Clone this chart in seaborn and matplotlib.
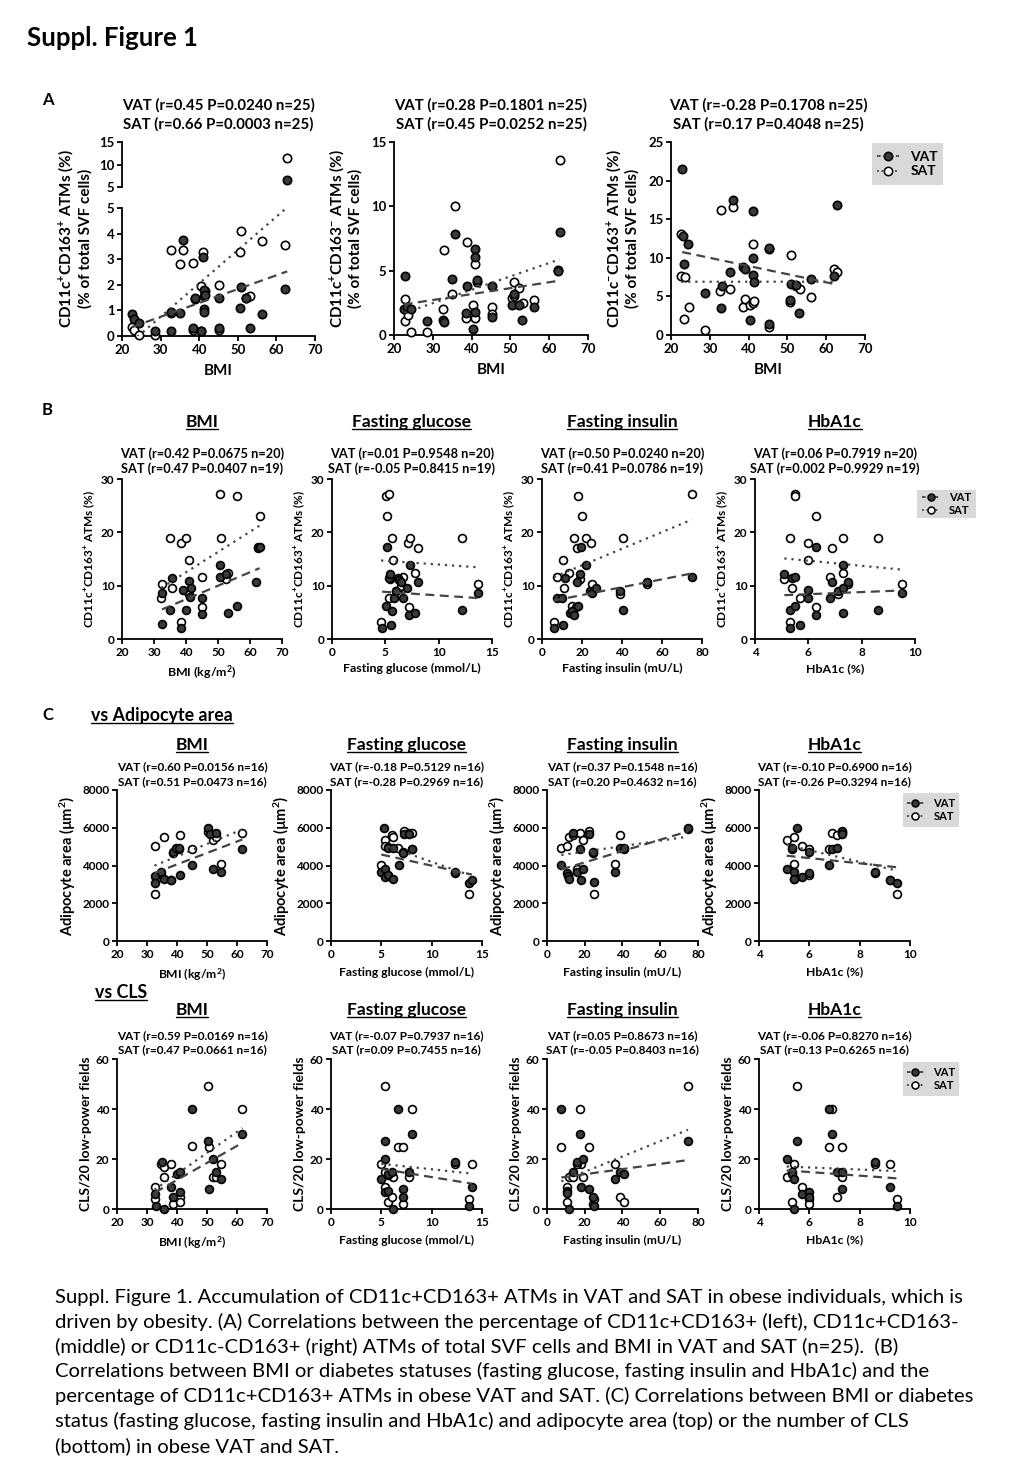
import matplotlib
matplotlib.use('Agg')
import matplotlib.pyplot as plt
from matplotlib.lines import Line2D
from matplotlib.patches import Rectangle
import seaborn as sns

# ---------------- data ----------------
# A: BMI vs ATM subsets, n=25
a1_vat_x = [22.6, 23.0, 24.4, 28.5, 32.8, 32.8, 35.0, 35.8, 38.5, 39.0, 40.4, 41.0, 41.3, 41.3, 41.3, 41.5, 45.2, 45.2, 50.6, 50.9, 52.0, 53.2, 56.2, 62.2, 62.8]
a1_vat_y = [0.85, 0.65, 0.50, 0.20, 0.95, 0.20, 0.90, 3.75, 0.30, 1.50, 0.20, 3.10, 1.80, 1.05, 0.95, 1.60, 1.50, 0.30, 1.10, 1.90, 1.50, 0.30, 0.85, 1.85, 6.50]
a1_sat_x = [22.6, 23.0, 24.4, 28.5, 32.8, 32.8, 35.0, 35.8, 38.5, 38.5, 39.0, 40.4, 40.4, 41.0, 41.3, 41.5, 45.2, 45.2, 50.6, 50.9, 52.0, 53.2, 56.2, 62.2, 62.8]
a1_sat_y = [0.35, 0.25, 0.05, 0.05, 3.35, 0.90, 2.80, 3.35, 2.85, 0.25, 1.45, 1.95, 0.20, 3.30, 1.55, 1.75, 2.00, 0.25, 3.30, 4.10, 1.50, 1.55, 3.70, 3.55, 11.4]

a2_vat_x = [22.8, 22.5, 23.4, 24.3, 28.4, 32.7, 32.9, 35.0, 35.7, 38.7, 38.5, 40.3, 41.0, 41.0, 41.0, 41.5, 45.2, 45.2, 50.4, 50.8, 52.2, 53.0, 56.1, 62.2, 62.7]
a2_vat_y = [4.55, 2.00, 2.15, 2.00, 1.05, 1.15, 1.00, 4.35, 7.85, 3.80, 1.70, 0.50, 6.65, 6.10, 1.75, 4.30, 3.80, 1.40, 2.35, 3.20, 2.35, 1.15, 2.20, 4.95, 8.00]
a2_sat_x = [22.9, 22.8, 23.6, 24.3, 28.4, 32.7, 32.9, 35.0, 35.7, 38.7, 38.5, 40.3, 41.0, 41.5, 41.0, 45.2, 45.2, 50.4, 50.8, 50.9, 52.2, 53.2, 56.1, 62.2, 62.7]
a2_sat_y = [2.80, 1.10, 1.55, 0.25, 0.20, 2.00, 6.60, 3.20, 10.05, 7.20, 1.30, 2.35, 5.50, 4.15, 1.30, 2.15, 1.60, 2.90, 4.15, 3.00, 3.65, 2.45, 2.70, 5.05, 13.6]

a3_vat_x = [22.9, 23.2, 24.5, 23.4, 28.8, 32.8, 33.1, 35.2, 35.9, 38.6, 39.0, 40.4, 41.1, 41.2, 41.2, 41.5, 45.3, 45.3, 50.7, 50.8, 52.2, 53.1, 56.0, 62.1, 62.9]
a3_vat_y = [21.5, 12.8, 11.8, 9.2, 5.4, 3.5, 6.4, 8.1, 17.5, 8.8, 8.5, 1.9, 16.1, 10.0, 7.8, 6.9, 11.3, 1.4, 4.5, 6.6, 6.5, 2.9, 7.2, 7.7, 16.9]
a3_sat_x = [22.6, 22.7, 23.6, 23.4, 24.7, 28.8, 33.0, 32.6, 35.2, 35.9, 38.6, 39.0, 40.4, 41.2, 41.2, 41.4, 45.3, 45.3, 50.9, 50.7, 52.2, 53.2, 56.0, 62.1, 62.9]
a3_sat_y = [13.1, 7.7, 7.5, 2.1, 3.6, 0.65, 16.2, 5.75, 5.9, 16.6, 3.6, 4.6, 3.9, 11.8, 4.1, 4.4, 1.0, 11.2, 10.4, 4.3, 6.4, 6.0, 4.9, 8.6, 8.2]

# B: CD11c+CD163+ ATMs vs BMI / glucose / insulin / HbA1c
b_bmi_vat_x = [32.5, 32.5, 35.0, 35.5, 38.5, 39.0, 40.0, 40.8, 41.2, 41.5, 45.0, 45.0, 50.7, 50.5, 52.5, 53.0, 56.0, 62.0, 62.5, 63.0]
b_bmi_vat_y = [2.8, 8.6, 5.4, 11.4, 2.1, 9.1, 5.4, 10.8, 7.8, 9.5, 7.6, 4.6, 13.9, 11.7, 12.1, 4.8, 6.1, 10.7, 17.0, 17.2]
b_bmi_sat_x = [32.5, 32.3, 35.0, 35.5, 38.5, 38.5, 40.0, 41.0, 45.0, 45.0, 50.5, 51.0, 52.5, 53.0, 56.0, 63.0, 40.5, 41.0, 62.5]
b_bmi_sat_y = [10.3, 7.6, 19.0, 9.5, 18.0, 3.2, 19.0, 14.8, 11.7, 6.0, 27.2, 19.0, 11.2, 12.3, 26.8, 23.1, 8.8, 8.4, 17.2]

b_glu_vat_x = [4.7, 5.1, 5.2, 5.3, 5.4, 5.5, 5.6, 5.8, 6.0, 6.2, 6.3, 6.5, 6.7, 7.0, 7.2, 7.3, 7.8, 8.1, 12.2, 13.7]
b_glu_vat_y = [2.1, 6.1, 17.2, 11.4, 12.1, 2.7, 5.3, 7.7, 9.0, 11.4, 11.0, 10.7, 7.6, 9.5, 4.5, 13.9, 4.8, 10.7, 5.4, 8.6]
b_glu_sat_x = [4.6, 5.1, 5.3, 5.2, 5.6, 5.7, 5.3, 5.4, 6.0, 6.3, 6.7, 7.1, 7.2, 7.3, 7.8, 8.1, 12.2, 13.7, 6.5]
b_glu_sat_y = [3.2, 26.8, 27.2, 23.1, 19.0, 14.8, 7.6, 11.2, 9.0, 8.4, 11.7, 18.0, 6.0, 19.0, 12.3, 17.0, 19.0, 10.3, 10.0]

b_ins_vat_x = [6, 7.5, 10, 10.5, 11.5, 14, 15, 16, 17.5, 18, 19, 19.5, 22, 24, 25, 27, 39, 40.5, 52.5, 75]
b_ins_vat_y = [2.1, 7.6, 7.6, 2.7, 11.4, 4.8, 5.3, 4.5, 10.7, 6.1, 12.1, 17.2, 13.9, 9.0, 8.6, 9.5, 9.0, 5.4, 10.7, 11.7]
b_ins_sat_x = [6, 7.5, 10.5, 11, 13.5, 15, 16, 17, 17.5, 18, 19, 20, 22, 24.5, 25, 39, 40.5, 52.5, 75]
b_ins_sat_y = [3.2, 11.7, 14.8, 9.5, 12.3, 6.2, 19.0, 6.0, 17.0, 26.8, 11.2, 23.1, 19.0, 18.0, 10.3, 8.4, 19.0, 10.4, 27.2]

b_hba_vat_x = [5.1, 5.3, 5.3, 5.4, 5.5, 5.5, 5.7, 6.0, 6.0, 6.3, 6.3, 6.8, 6.9, 7.1, 7.3, 7.3, 7.3, 7.5, 8.6, 9.5]
b_hba_vat_y = [12.1, 2.1, 5.4, 11.4, 6.1, 11.7, 2.7, 9.1, 7.7, 17.2, 4.5, 7.6, 10.7, 9.0, 13.9, 9.5, 4.8, 10.7, 5.4, 8.6]
b_hba_sat_x = [5.1, 5.3, 5.3, 5.4, 5.5, 5.5, 5.7, 6.0, 6.0, 6.3, 6.3, 6.8, 6.9, 7.1, 7.3, 7.3, 7.5, 8.6, 9.5]
b_hba_sat_y = [11.2, 19.0, 3.2, 9.5, 27.2, 26.8, 7.6, 18.0, 14.8, 23.1, 6.0, 11.7, 17.0, 8.4, 19.0, 12.3, 10.3, 19.0, 10.3]

# C top: adipocyte area
c_bmi_vat_x = [32.5, 32.7, 34.7, 35.5, 38.0, 38.5, 39.6, 40.7, 41.0, 45.0, 50.4, 50.9, 53.0, 52.0, 54.5, 61.8]
c_bmi_vat_y = [3430, 3080, 3660, 3310, 3220, 4730, 4940, 4940, 3520, 4050, 6000, 5650, 5700, 3840, 3660, 4870]
c_bmi_sat_x = [32.5, 32.7, 35.5, 38.5, 41.0, 45.0, 52.0, 53.0, 54.5, 61.8, 34.7, 40.7, 50.4, 50.9, 33.0, 38.0]
c_bmi_sat_y = [5030, 2510, 5520, 4640, 5610, 4900, 5340, 5520, 4070, 5700, 3500, 4900, 5800, 5700, 3300, 3250]

c_glu_vat_x = [5.3, 5.0, 5.4, 5.4, 5.7, 5.7, 6.2, 6.2, 7.2, 7.3, 7.7, 8.0, 6.8, 12.3, 13.7, 14.0]
c_glu_vat_y = [6000, 3660, 3790, 3400, 3490, 4940, 4940, 3310, 4670, 5650, 5650, 4870, 4050, 3630, 3080, 3220]
c_glu_sat_x = [5.0, 5.4, 5.4, 6.1, 6.2, 6.7, 7.3, 7.7, 8.0, 12.3, 13.7, 5.7, 5.4, 5.7, 7.2, 8.0]
c_glu_sat_y = [4050, 5340, 5030, 5610, 5490, 4940, 5820, 5700, 5700, 3580, 2510, 5000, 3500, 3450, 4700, 4900]

c_ins_vat_x = [7.6, 10.5, 10.9, 11.8, 13.7, 15.8, 17.6, 18.1, 19.0, 22.0, 24.3, 25.1, 36.0, 38.7, 40.8, 74.7]
c_ins_vat_y = [4050, 3580, 3450, 3310, 5700, 3660, 4870, 3220, 3800, 5650, 4730, 3100, 3660, 4940, 4940, 6000]
c_ins_sat_x = [7.6, 10.5, 11.8, 13.7, 17.6, 19.3, 22.0, 24.3, 25.1, 36.0, 38.7, 74.7, 10.9, 15.8, 40.8, 15.8]
c_ins_sat_y = [4940, 5030, 5520, 5610, 5700, 5340, 5820, 4670, 2510, 4070, 5610, 5960, 3500, 3700, 4900, 3840]

c_hba_vat_x = [5.1, 5.3, 5.4, 5.4, 5.5, 5.7, 6.0, 6.0, 6.8, 6.9, 7.1, 7.3, 7.3, 8.6, 9.2, 9.5]
c_hba_vat_y = [3800, 4940, 3660, 3310, 6000, 3400, 3580, 4730, 4050, 4900, 4940, 5820, 5650, 3660, 3220, 3080]
c_hba_sat_x = [5.1, 5.4, 5.4, 5.7, 6.0, 6.9, 7.1, 7.3, 6.8, 8.6, 9.5, 5.4, 5.3, 6.0, 7.3, 9.2]
c_hba_sat_y = [5340, 5490, 4070, 5030, 4870, 5700, 5610, 5700, 4900, 3580, 2510, 3300, 4900, 3500, 5800, 3250]

# C bottom: CLS / 20 low-power fields
d_bmi_vat_x = [32.7, 32.9, 35.0, 35.7, 38.0, 38.8, 39.9, 41.0, 41.0, 45.0, 50.4, 50.8, 52.0, 53.0, 54.5, 61.8]
d_bmi_vat_y = [6.2, 1.1, 19, 0, 9, 5, 14, 14.8, 7, 40, 27.3, 8.1, 20.1, 14.8, 12.1, 30]
d_bmi_sat_x = [32.5, 32.7, 34.7, 35.5, 35.5, 38.0, 38.8, 41.0, 41.0, 45.0, 50.4, 50.8, 52.0, 53.0, 54.5, 61.8]
d_bmi_sat_y = [9, 4, 18, 16.8, 13, 18.1, 2.1, 5, 3, 25.3, 49.2, 25, 13, 13, 18, 40]

d_glu_vat_x = [5.0, 5.4, 5.4, 5.4, 5.7, 5.7, 6.1, 6.2, 6.7, 7.2, 7.2, 8.0, 7.7, 12.3, 13.7, 14.0]
d_glu_vat_y = [12, 27.3, 20, 6.8, 14, 7.4, 14.8, 0, 40, 8.1, 5, 30, 15, 19, 1.1, 9]
d_glu_sat_x = [5.0, 5.4, 5.4, 5.7, 6.1, 6.2, 6.7, 7.2, 7.2, 8.0, 7.7, 12.3, 13.7, 14.0, 5.4, 5.7]
d_glu_sat_y = [18, 49.2, 9, 3, 5, 13, 25, 25, 2, 40, 13, 18, 4, 18, 15, 13.7]

d_ins_vat_x = [7.6, 10.5, 10.5, 11.8, 13.7, 15.8, 17.6, 18.1, 19.3, 22.0, 24.3, 25.1, 36.0, 38.7, 40.8, 74.7]
d_ins_vat_y = [40, 7.4, 6.4, 0, 15, 19, 30, 9, 20, 8.1, 5, 1.1, 12, 15, 14, 27.3]
d_ins_sat_x = [7.6, 10.5, 10.5, 11.8, 13.7, 17.6, 18.1, 19.3, 22.0, 24.3, 25.1, 36.0, 38.7, 40.8, 74.7, 15.8]
d_ins_sat_y = [25, 9, 3, 13, 13, 40, 18, 13, 25, 2, 4, 18, 5, 3, 49.2, 18]

d_hba_vat_x = [5.1, 5.3, 5.4, 5.4, 5.5, 5.7, 6.0, 6.0, 6.8, 6.9, 7.1, 7.3, 7.3, 8.6, 9.2, 9.5]
d_hba_vat_y = [20, 14, 12, 0, 27.3, 6.2, 7, 5, 40, 30, 15, 14.8, 8.1, 19, 9, 1.1]
d_hba_sat_x = [5.1, 5.3, 5.4, 5.7, 6.0, 6.0, 6.8, 6.9, 7.1, 7.3, 7.3, 8.6, 9.2, 9.5, 5.5, 5.3]
d_hba_sat_y = [13, 3, 18, 9, 4, 2, 25, 40, 5, 25, 13, 18, 18, 4, 49.2, 15]

stats_a = [('VAT (r=0.45 P=0.0240 n=25)', 'SAT (r=0.66 P=0.0003 n=25)'),
           ('VAT (r=0.28 P=0.1801 n=25)', 'SAT (r=0.45 P=0.0252 n=25)'),
           ('VAT (r=-0.28 P=0.1708 n=25)', 'SAT (r=0.17 P=0.4048 n=25)')]
stats_b = [('VAT (r=0.42 P=0.0675 n=20)', 'SAT (r=0.47 P=0.0407 n=19)'),
           ('VAT (r=0.01 P=0.9548 n=20)', 'SAT (r=-0.05 P=0.8415 n=19)'),
           ('VAT (r=0.50 P=0.0240 n=20)', 'SAT (r=0.41 P=0.0786 n=19)'),
           ('VAT (r=0.06 P=0.7919 n=20)', 'SAT (r=0.002 P=0.9929 n=19)')]
stats_c = [('VAT (r=0.60 P=0.0156 n=16)', 'SAT (r=0.51 P=0.0473 n=16)'),
           ('VAT (r=-0.18 P=0.5129 n=16)', 'SAT (r=-0.28 P=0.2969 n=16)'),
           ('VAT (r=0.37 P=0.1548 n=16)', 'SAT (r=0.20 P=0.4632 n=16)'),
           ('VAT (r=-0.10 P=0.6900 n=16)', 'SAT (r=-0.26 P=0.3294 n=16)')]
stats_d = [('VAT (r=0.59 P=0.0169 n=16)', 'SAT (r=0.47 P=0.0661 n=16)'),
           ('VAT (r=-0.07 P=0.7937 n=16)', 'SAT (r=0.09 P=0.7455 n=16)'),
           ('VAT (r=0.05 P=0.8673 n=16)', 'SAT (r=-0.05 P=0.8403 n=16)'),
           ('VAT (r=-0.06 P=0.8270 n=16)', 'SAT (r=0.13 P=0.6265 n=16)')]

titles = ['BMI', 'Fasting glucose', 'Fasting insulin', 'HbA1c']
xlabels = ['BMI (kg/m$^{2}$)', 'Fasting glucose (mmol/L)', 'Fasting insulin (mU/L)', 'HbA1c (%)']
xlims = [(20, 70), (0, 15), (0, 80), (4, 10)]
xticks = [[20, 30, 40, 50, 60, 70], [0, 5, 10, 15], [0, 20, 40, 60, 80], [4, 6, 8, 10]]

caption = [
    'Suppl. Figure 1. Accumulation of CD11c+CD163+ ATMs in VAT and SAT in obese individuals, which is',
    'driven by obesity. (A) Correlations between the percentage of CD11c+CD163+ (left), CD11c+CD163-',
    '(middle) or CD11c-CD163+ (right) ATMs of total SVF cells and BMI in VAT and SAT (n=25).  (B)',
    'Correlations between BMI or diabetes statuses (fasting glucose, fasting insulin and HbA1c) and the',
    'percentage of CD11c+CD163+ ATMs in obese VAT and SAT. (C) Correlations between BMI or diabetes',
    'status (fasting glucose, fasting insulin and HbA1c) and adipocyte area (top) or the number of CLS',
    '(bottom) in obese VAT and SAT.',
]

# ---------------- style ----------------
W, H = 1020, 1483
sns.set_theme(style='ticks')
plt.rcParams['font.family'] = ['Lato', 'DejaVu Sans']
plt.rcParams.update({
    'font.weight': 'bold',
    'axes.labelweight': 'bold',
    'mathtext.fontset': 'custom',
    'mathtext.rm': 'Lato:bold',
    'mathtext.it': 'Lato:bold',
    'mathtext.bf': 'Lato:bold',
    'mathtext.default': 'rm',
    'axes.linewidth': 1.3,
    'axes.edgecolor': 'black',
    'axes.labelcolor': 'black',
    'text.color': 'black',
    'xtick.color': 'black',
    'ytick.color': 'black',
    'xtick.major.width': 1.3,
    'ytick.major.width': 1.3,
    'xtick.major.size': 3.5,
    'ytick.major.size': 3.5,
})

VAT_C = '#3a3a3a'
LINE_C = '#444444'

fig = plt.figure(figsize=(W / 100, H / 100), dpi=100)
fig.patch.set_facecolor('white')


def box(x0, x1, y0, y1):
    return fig.add_axes([x0 / W, 1 - y1 / H, (x1 - x0) / W, (y1 - y0) / H])


def ftext(x, y, s, **kw):
    return fig.text(x / W, 1 - y / H, s, **kw)


def style(ax, xlim, xt, ylim, yt, fs):
    ax.set_xlim(xlim)
    ax.set_xticks(xt)
    ax.set_ylim(ylim)
    ax.set_yticks(yt)
    sns.despine(ax=ax)
    ax.tick_params(labelsize=fs, pad=2)
    ax.set_facecolor('none')


def points(ax, vx, vy, sx, sy, s):
    sns.scatterplot(x=sx, y=sy, ax=ax, s=s, color='white', edgecolor='black',
                    linewidth=1.2, clip_on=False, zorder=3)
    sns.scatterplot(x=vx, y=vy, ax=ax, s=s, color=VAT_C, edgecolor='black',
                    linewidth=1.2, clip_on=False, zorder=3)


def fits(ax, vx, vy, sx, sy):
    sns.regplot(x=sx, y=sy, ax=ax, scatter=False, ci=None, truncate=True, color=LINE_C,
                line_kws=dict(ls=(0, (1, 2.2)), lw=1.6, zorder=4))
    sns.regplot(x=vx, y=vy, ax=ax, scatter=False, ci=None, truncate=True, color=LINE_C,
                line_kws=dict(ls=(0, (4, 2.5)), lw=1.6, zorder=4))


def legend(x0, x1, y0, y1, fs, ms):
    fig.patches.append(Rectangle((x0 / W, 1 - y1 / H), (x1 - x0) / W, (y1 - y0) / H,
                                 transform=fig.transFigure, facecolor='#d9d9d9',
                                 edgecolor='none', zorder=0))
    handles = [Line2D([], [], color=LINE_C, ls=(0, (2, 1.5)), lw=1.3, marker='o', ms=ms,
                      mfc=VAT_C, mec='black', mew=1.1),
               Line2D([], [], color=LINE_C, ls=(0, (1, 1.5)), lw=1.3, marker='o', ms=ms,
                      mfc='white', mec='black', mew=1.1)]
    fig.legend(handles, ['VAT', 'SAT'], loc='center',
               bbox_to_anchor=((x0 + x1) / 2 / W, 1 - (y0 + y1) / 2 / H),
               frameon=False, handlelength=1.6, handletextpad=0.8, labelspacing=0.2,
               borderpad=0.2, prop=dict(weight='bold', size=fs))


underline = []

# ---------------- header ----------------
ftext(27, 38, 'Suppl. Figure 1', fontsize=18.5, fontweight='bold', va='center')
ftext(42, 100, 'A', fontsize=12, fontweight='bold', va='center')
ftext(42, 410, 'B', fontsize=12, fontweight='bold', va='center')
ftext(42, 715, 'C', fontsize=12, fontweight='bold', va='center')
underline.append(ftext(91, 715, 'vs Adipocyte area', fontsize=12.8, fontweight='bold', va='center'))
underline.append(ftext(95, 992, 'vs CLS', fontsize=12.8, fontweight='bold', va='center'))

# ---------------- panel A ----------------
A_FS = 9.5
A_LAB = 11
# A1 with broken y axis
lo = box(122, 315, 208, 336)
hi = box(122, 315, 142, 187)
lo_v = [(x, y) for x, y in zip(a1_vat_x, a1_vat_y) if y <= 5]
hi_v = [(x, y) for x, y in zip(a1_vat_x, a1_vat_y) if y > 5]
lo_s = [(x, y) for x, y in zip(a1_sat_x, a1_sat_y) if y <= 5]
hi_s = [(x, y) for x, y in zip(a1_sat_x, a1_sat_y) if y > 5]
points(lo, [p[0] for p in lo_v], [p[1] for p in lo_v], [p[0] for p in lo_s], [p[1] for p in lo_s], 36)
fits(lo, a1_vat_x, a1_vat_y, a1_sat_x, a1_sat_y)
points(hi, [p[0] for p in hi_v], [p[1] for p in hi_v], [p[0] for p in hi_s], [p[1] for p in hi_s], 36)
style(lo, (20, 70), [20, 30, 40, 50, 60, 70], (0, 5), [0, 1, 2, 3, 4, 5], A_FS)
style(hi, (20, 70), [], (5, 15), [5, 10, 15], A_FS)
hi.spines['bottom'].set_visible(False)
hi.tick_params(axis='x', length=0)
lo.set_xlabel('BMI', fontsize=A_LAB, labelpad=6)
lo.set_ylabel('CD11c$^{+}$CD163$^{+}$ ATMs (%)\n(% of total SVF cells)', fontsize=A_LAB)
lo.yaxis.set_label_coords(-0.155, 0.76)

ax = box(394, 588, 142, 335)
points(ax, a2_vat_x, a2_vat_y, a2_sat_x, a2_sat_y, 36)
fits(ax, a2_vat_x, a2_vat_y, a2_sat_x, a2_sat_y)
style(ax, (20, 70), [20, 30, 40, 50, 60, 70], (0, 15), [0, 5, 10, 15], A_FS)
ax.set_xlabel('BMI', fontsize=A_LAB, labelpad=6)
ax.set_ylabel('CD11c$^{+}$CD163$^{-}$ ATMs (%)\n(% of total SVF cells)', fontsize=A_LAB, labelpad=6)

ax = box(671, 865, 142, 335)
points(ax, a3_vat_x, a3_vat_y, a3_sat_x, a3_sat_y, 36)
fits(ax, a3_vat_x, a3_vat_y, a3_sat_x, a3_sat_y)
style(ax, (20, 70), [20, 30, 40, 50, 60, 70], (0, 25), [0, 5, 10, 15, 20, 25], A_FS)
ax.set_xlabel('BMI', fontsize=A_LAB, labelpad=6)
ax.set_ylabel('CD11c$^{-}$CD163$^{+}$ ATMs (%)\n(% of total SVF cells)', fontsize=A_LAB, labelpad=6)

for cx, (s1, s2) in zip([218.5, 491, 768], stats_a):
    ftext(cx, 105, s1, fontsize=10.8, fontweight='bold', ha='center', va='center')
    ftext(cx, 124, s2, fontsize=10.8, fontweight='bold', ha='center', va='center')
legend(872, 943, 143, 185, 10, 6)

# ---------------- panel B ----------------
B_FS = 8.5
b_data = [(b_bmi_vat_x, b_bmi_vat_y, b_bmi_sat_x, b_bmi_sat_y),
          (b_glu_vat_x, b_glu_vat_y, b_glu_sat_x, b_glu_sat_y),
          (b_ins_vat_x, b_ins_vat_y, b_ins_sat_x, b_ins_sat_y),
          (b_hba_vat_x, b_hba_vat_y, b_hba_sat_x, b_hba_sat_y)]
b_cols = [(122, 282), (332, 492), (542, 702), (755, 915)]
for i, ((x0, x1), (vx, vy, sx, sy)) in enumerate(zip(b_cols, b_data)):
    ax = box(x0, x1, 479, 639)
    points(ax, vx, vy, sx, sy, 32)
    fits(ax, vx, vy, sx, sy)
    style(ax, xlims[i], xticks[i], (0, 30), [0, 10, 20, 30], B_FS)
    ax.set_xlabel(xlabels[i], fontsize=8.9, labelpad=4)
    ax.set_ylabel('CD11c$^{+}$CD163$^{+}$ ATMs (%)', fontsize=8.5, labelpad=3)
    cx = (x0 + x1) / 2
    underline.append(ftext(cx, 422, titles[i], fontsize=12.5, fontweight='bold', ha='center', va='center'))
    ftext(cx, 454, stats_b[i][0], fontsize=9.2, fontweight='bold', ha='center', va='center')
    ftext(cx, 469, stats_b[i][1], fontsize=9.2, fontweight='bold', ha='center', va='center')
legend(917, 976, 490, 518, 8, 5)

# ---------------- panel C ----------------
c_cols = [(117, 267), (331, 482), (547, 698), (759, 910)]
c_data = [(c_bmi_vat_x, c_bmi_vat_y, c_bmi_sat_x, c_bmi_sat_y),
          (c_glu_vat_x, c_glu_vat_y, c_glu_sat_x, c_glu_sat_y),
          (c_ins_vat_x, c_ins_vat_y, c_ins_sat_x, c_ins_sat_y),
          (c_hba_vat_x, c_hba_vat_y, c_hba_sat_x, c_hba_sat_y)]
d_data = [(d_bmi_vat_x, d_bmi_vat_y, d_bmi_sat_x, d_bmi_sat_y),
          (d_glu_vat_x, d_glu_vat_y, d_glu_sat_x, d_glu_sat_y),
          (d_ins_vat_x, d_ins_vat_y, d_ins_sat_x, d_ins_sat_y),
          (d_hba_vat_x, d_hba_vat_y, d_hba_sat_x, d_hba_sat_y)]

rows = [(c_data, stats_c, 745, 767, 782, 790, 941, (0, 8000), [0, 2000, 4000, 6000, 8000],
         'Adipocyte area (µm$^{2}$)', 10.5),
        (d_data, stats_d, 1010, 1036, 1050, 1059, 1209, (0, 60), [0, 20, 40, 60],
         'CLS/20 low-power fields', 10)]
for data, stats, ty, sy1, sy2, y0, y1, ylim, yt, ylab, yfs in rows:
    for i, ((x0, x1), (vx, vy, sx, sy)) in enumerate(zip(c_cols, data)):
        ax = box(x0, x1, y0, y1)
        points(ax, vx, vy, sx, sy, 32)
        fits(ax, vx, vy, sx, sy)
        style(ax, xlims[i], xticks[i], ylim, yt, B_FS)
        ax.set_xlabel(xlabels[i], fontsize=8.7, labelpad=5)
        ax.set_ylabel(ylab, fontsize=yfs, labelpad=3)
        cx = (x0 + x1) / 2
        underline.append(ftext(cx, ty, titles[i], fontsize=12.5, fontweight='bold', ha='center', va='center'))
        ftext(cx, sy1, stats[i][0], fontsize=8.5, fontweight='bold', ha='center', va='center')
        ftext(cx, sy2, stats[i][1], fontsize=8.5, fontweight='bold', ha='center', va='center')
legend(903, 959, 793, 827, 8, 5)
legend(903, 959, 1062, 1096, 8, 5)

# ---------------- caption ----------------
for k, line in enumerate(caption):
    ftext(55, 1297 + k * 24.8, line, fontsize=14.6, fontweight='normal', va='center')

# ---------------- underlines ----------------
fig.canvas.draw()
renderer = fig.canvas.get_renderer()
inv = fig.transFigure.inverted()
for t in underline:
    bb = t.get_window_extent(renderer)
    (ux0, uy), (ux1, _) = inv.transform([(bb.x0, bb.y0 + 1), (bb.x1, bb.y0 + 1)])
    fig.add_artist(Line2D([ux0, ux1], [uy, uy], transform=fig.transFigure, color='black', lw=1.0))

fig.savefig('out.png', dpi=100, facecolor='white')
